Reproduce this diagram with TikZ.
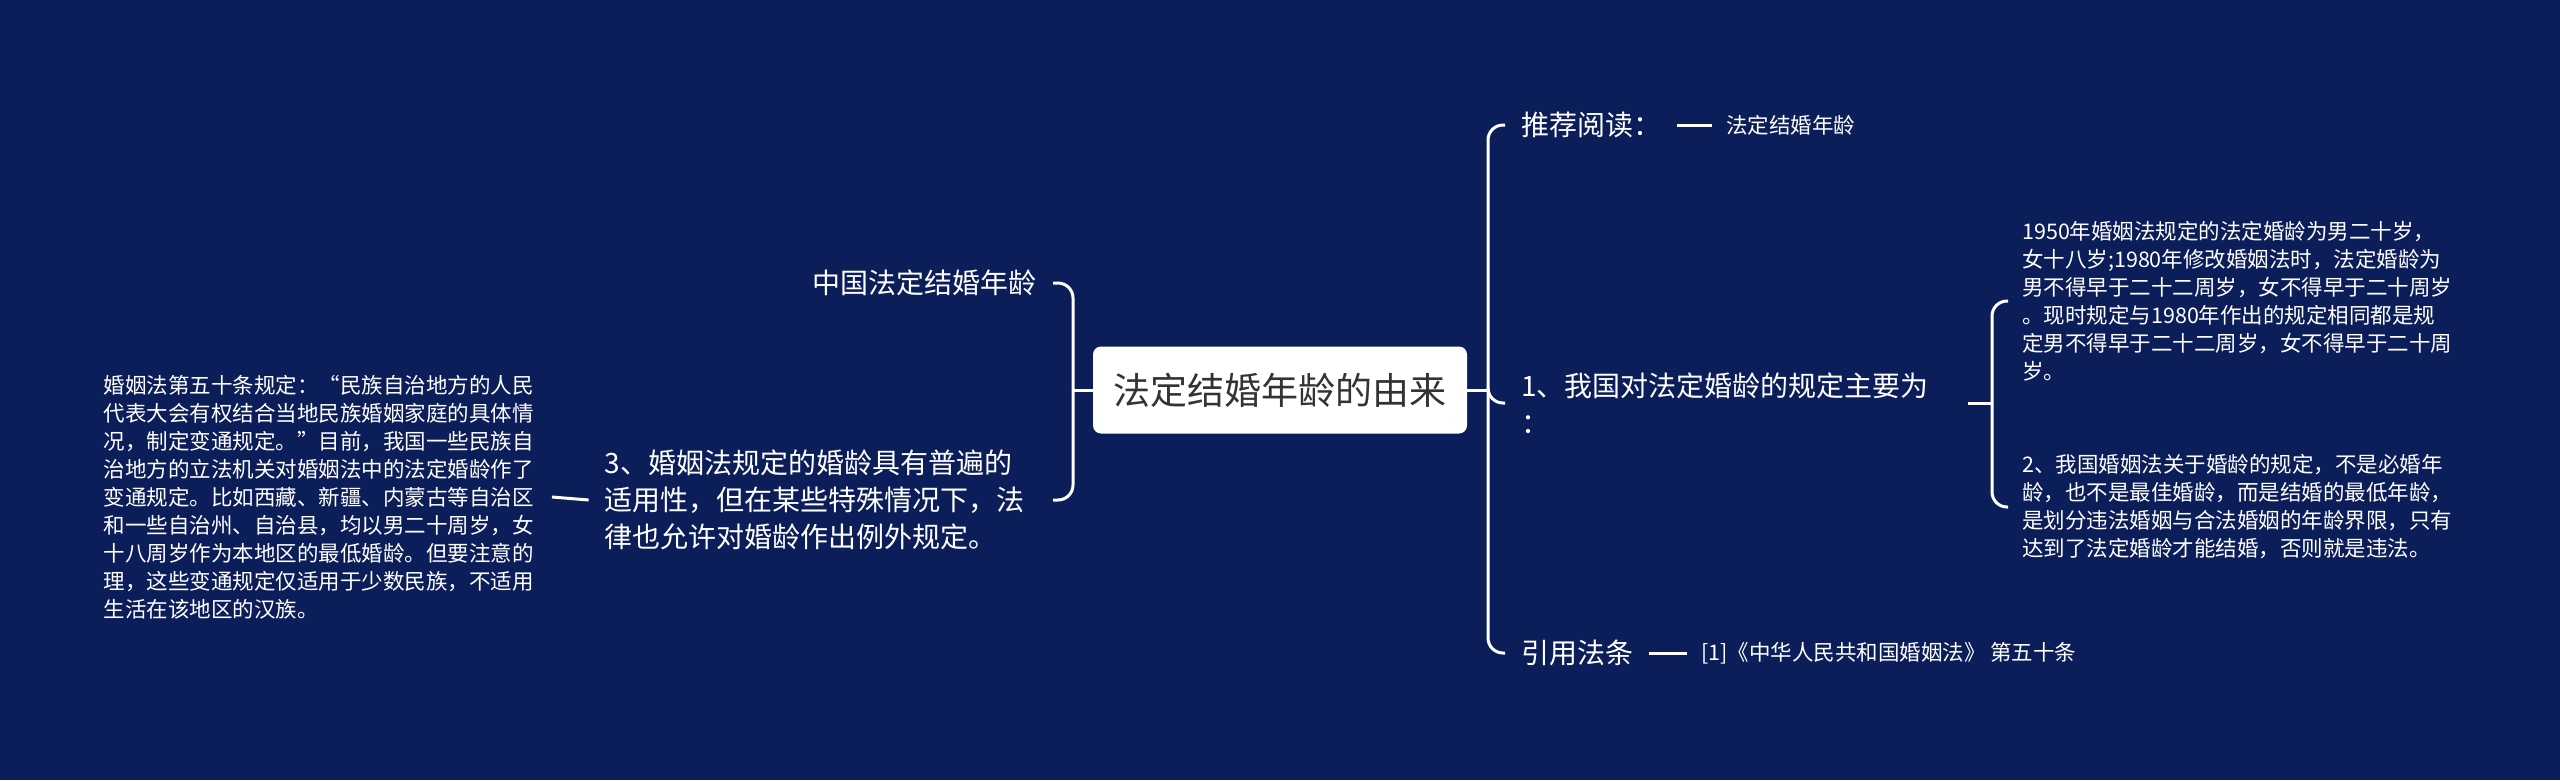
\documentclass[tikz,border=0pt]{standalone}
\usepackage{fontspec}
\setmainfont{Noto Sans CJK SC}
\definecolor{bgblue}{RGB}{11,30,90}
\definecolor{roottext}{RGB}{51,51,51}
\begin{document}
\begin{tikzpicture}[x=1pt,y=-1pt,
    line/.style={draw=white,line width=3pt,rounded corners=15pt},
    topic/.style={text=white,font=\fontsize{28}{37}\selectfont,inner xsep=16pt,inner ysep=4pt,align=left},
    leaf/.style={text=white,font=\fontsize{21.5}{28}\selectfont,inner xsep=14pt,inner ysep=4pt,align=left}]
            \fill[bgblue] (0,0) rectangle (2560,780);
            \useasboundingbox (0,0) rectangle (2560,780);

            \node[shape=rectangle,fill=white,rounded corners=8pt,minimum width=374pt,minimum height=87pt,text=roottext,font=\fontsize{37}{44}\selectfont] (0) at (1280,390) {法定结婚年龄的由来};

            % left side
            \coordinate (j1) at (1073,390);
            \node[topic,anchor=east] (1) at (1053,283) {中国法定结婚年龄};
            \node[topic,anchor=east,text width=432pt] (2) at (1053,500) {3、婚姻法规定的婚龄具有普遍的\\适用性，但在某些特殊情况下，法\\律也允许对婚龄作出例外规定。};
            \node[leaf,anchor=east,text width=434pt] (3) at (552,497) {婚姻法第五十条规定：“民族自治地方的人民\\代表大会有权结合当地民族婚姻家庭的具体情\\况，制定变通规定。”目前，我国一些民族自\\治地方的立法机关对婚姻法中的法定婚龄作了\\变通规定。比如西藏、新疆、内蒙古等自治区\\和一些自治州、自治县，均以男二十周岁，女\\十八周岁作为本地区的最低婚龄。但要注意的\\理，这些变通规定仅适用于少数民族，不适用\\生活在该地区的汉族。};

            % right side
            \coordinate (j2) at (1488,390);
            \node[topic,anchor=west] (4) at (1505,125) {推荐阅读：};
            \node[leaf,anchor=west] (5) at (1712,125) {法定结婚年龄};
            \node[topic,anchor=west,text width=431pt] (6) at (1505,403) {1、我国对法定婚龄的规定主要为\\：};
            \coordinate (j3) at (1992,403);
            \node[leaf,anchor=west] (7) at (2008,301) {1950年婚姻法规定的法定婚龄为男二十岁，\\女十八岁;1980年修改婚姻法时，法定婚龄为\\男不得早于二十二周岁，女不得早于二十周岁\\。现时规定与1980年作出的规定相同都是规\\定男不得早于二十二周岁，女不得早于二十周\\岁。};
            \node[leaf,anchor=west] (8) at (2008,507) {2、我国婚姻法关于婚龄的规定，不是必婚年\\龄，也不是最佳婚龄，而是结婚的最低年龄，\\是划分违法婚姻与合法婚姻的年龄界限，只有\\达到了法定婚龄才能结婚，否则就是违法。};
            \node[topic,anchor=west] (9) at (1505,653) {引用法条};
            \node[leaf,anchor=west] (10) at (1687,653) {[1]《中华人民共和国婚姻法》 第五十条};

            \draw[line] (0.west) -- (j1);
            \draw[line] (j1) |- (1.east);
            \draw[line] (j1) |- (2.east);
            \draw[line] (2.west) -- (3.east);

            \draw[line] (0.east) -- (j2);
            \draw[line] (j2) |- (4.west);
            \draw[line] (4.east) -- (5.west);
            \draw[line] (j2) |- (6.west);
            \draw[line] (6.east) -- (j3);
            \draw[line] (j3) |- (7.west);
            \draw[line] (j3) |- (8.west);
            \draw[line] (j2) |- (9.west);
            \draw[line] (9.east) -- (10.west);
        \end{tikzpicture}
\end{document}
